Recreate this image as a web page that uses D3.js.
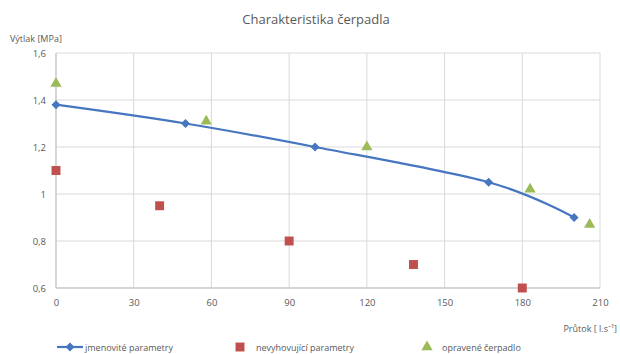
<!DOCTYPE html>
<html><head><meta charset="utf-8">
<script src="https://cdn.jsdelivr.net/npm/d3@7/dist/d3.min.js"></script>
<style>
body{margin:0;background:#fff;}
svg text{font-family:"Open Sans","Liberation Sans",sans-serif;fill:#595959;}
</style></head><body>
<svg id="c" width="620" height="354"></svg>
<script>
const title = "Charakteristika čerpadla";
const yTitle = "Výtlak [MPa]";
const xTitle = "Průtok [ l.s⁻¹]";
const xTicks = [0, 30, 60, 90, 120, 150, 180, 210];
const yTicks = [0.6, 0.8, 1.0, 1.2, 1.4, 1.6];
const seriesNames = ["jmenovité parametry", "nevyhovující parametry", "opravené čerpadlo"];
const nominalX = [0, 50, 100, 167, 200];
const nominalY = [1.38, 1.30, 1.20, 1.05, 0.90];
const badX = [0, 40, 90, 138, 180];
const badY = [1.10, 0.95, 0.80, 0.70, 0.60];
const fixedX = [0, 58, 120, 183, 206];
const fixedY = [1.47, 1.31, 1.20, 1.02, 0.87];

const svg = d3.select("#c");
const L = 56, R = 600, T = 53, B = 288;
const x = d3.scaleLinear().domain([0, 210]).range([L, R]);
const y = d3.scaleLinear().domain([0.6, 1.6]).range([B, T]);
const blue = "#4676c0", red = "#c0504d", green = "#9bbb59";
const fmt = v => String(+v.toFixed(1)).replace(".", ",");

// grid
const g = svg.append("g");
g.selectAll(".hg").data(yTicks).join("line")
  .attr("x1", L).attr("x2", R).attr("y1", d => y(d)).attr("y2", d => y(d))
  .attr("stroke", "#d9d9d9").attr("stroke-width", 1);
g.selectAll(".vg").data(xTicks).join("line")
  .attr("y1", T).attr("y2", B).attr("x1", d => x(d)).attr("x2", d => x(d))
  .attr("stroke", "#d9d9d9").attr("stroke-width", 1);
g.append("line").attr("x1", L).attr("x2", L).attr("y1", T).attr("y2", B).attr("stroke", "#bfbfbf");
g.append("line").attr("x1", L).attr("x2", R).attr("y1", B).attr("y2", B).attr("stroke", "#bfbfbf");

const xa = svg.append("g").attr("transform", `translate(0,${B})`)
  .call(d3.axisBottom(x).tickValues(xTicks).tickSize(0).tickPadding(11).tickFormat(d => d));
const ya = svg.append("g").attr("transform", `translate(${L},0)`)
  .call(d3.axisLeft(y).tickValues(yTicks).tickSize(0).tickPadding(10).tickFormat(fmt));
[xa, ya].forEach(a => {
  a.select(".domain").remove();
  a.selectAll("text").style("font-family", '"Open Sans","Liberation Sans",sans-serif')
    .style("font-size", "9.5px").attr("fill", "#595959");
});

svg.append("text").attr("x", 316).attr("y", 24).attr("text-anchor", "middle")
  .style("font-size", "13px").attr("fill", "#505050").text(title);
svg.append("text").attr("x", 10).attr("y", 42).style("font-size", "9px").text(yTitle);
svg.append("text").attr("x", 617).attr("y", 332).attr("text-anchor", "end").style("font-size", "9px").text(xTitle);

const nominal = nominalX.map((v, i) => [v, nominalY[i]]);
const bad = badX.map((v, i) => [v, badY[i]]);
const fixed = fixedX.map((v, i) => [v, fixedY[i]]);

svg.append("path").datum(nominal)
  .attr("d", d3.line().x(d => x(d[0])).y(d => y(d[1])).curve(d3.curveCatmullRom.alpha(0)))
  .attr("fill", "none").attr("stroke", blue).attr("stroke-width", 2.2);

const diamond = "M0,-4.5L4.5,0L0,4.5L-4.5,0Z";
const square = d3.symbol().type(d3.symbolSquare).size(80);
const tri = d3.symbol().type(d3.symbolTriangle).size(55);

svg.selectAll(".nm").data(nominal).join("path")
  .attr("d", diamond).attr("transform", d => `translate(${x(d[0])},${y(d[1])})`).attr("fill", blue);
svg.selectAll(".bd").data(bad).join("path")
  .attr("d", square).attr("transform", d => `translate(${x(d[0])},${y(d[1])})`).attr("fill", red);
svg.selectAll(".fx").data(fixed).join("path")
  .attr("d", tri).attr("transform", d => `translate(${x(d[0])},${y(d[1])})`).attr("fill", green);

const ly = 347;
const lg = svg.append("g");
lg.append("line").attr("x1", 57).attr("x2", 83).attr("y1", ly).attr("y2", ly).attr("stroke", blue).attr("stroke-width", 2.2);
lg.append("path").attr("d", diamond).attr("transform", `translate(70,${ly})`).attr("fill", blue);
lg.append("text").attr("x", 85).attr("y", ly + 3.5).style("font-size", "9px").text(seriesNames[0]);
lg.append("path").attr("d", square).attr("transform", `translate(240,${ly})`).attr("fill", red);
lg.append("text").attr("x", 256).attr("y", ly + 3.5).style("font-size", "9px").text(seriesNames[1]);
lg.append("path").attr("d", tri).attr("transform", `translate(427,${ly})`).attr("fill", green);
lg.append("text").attr("x", 442).attr("y", ly + 3.5).style("font-size", "9px").text(seriesNames[2]);
</script></body></html>
